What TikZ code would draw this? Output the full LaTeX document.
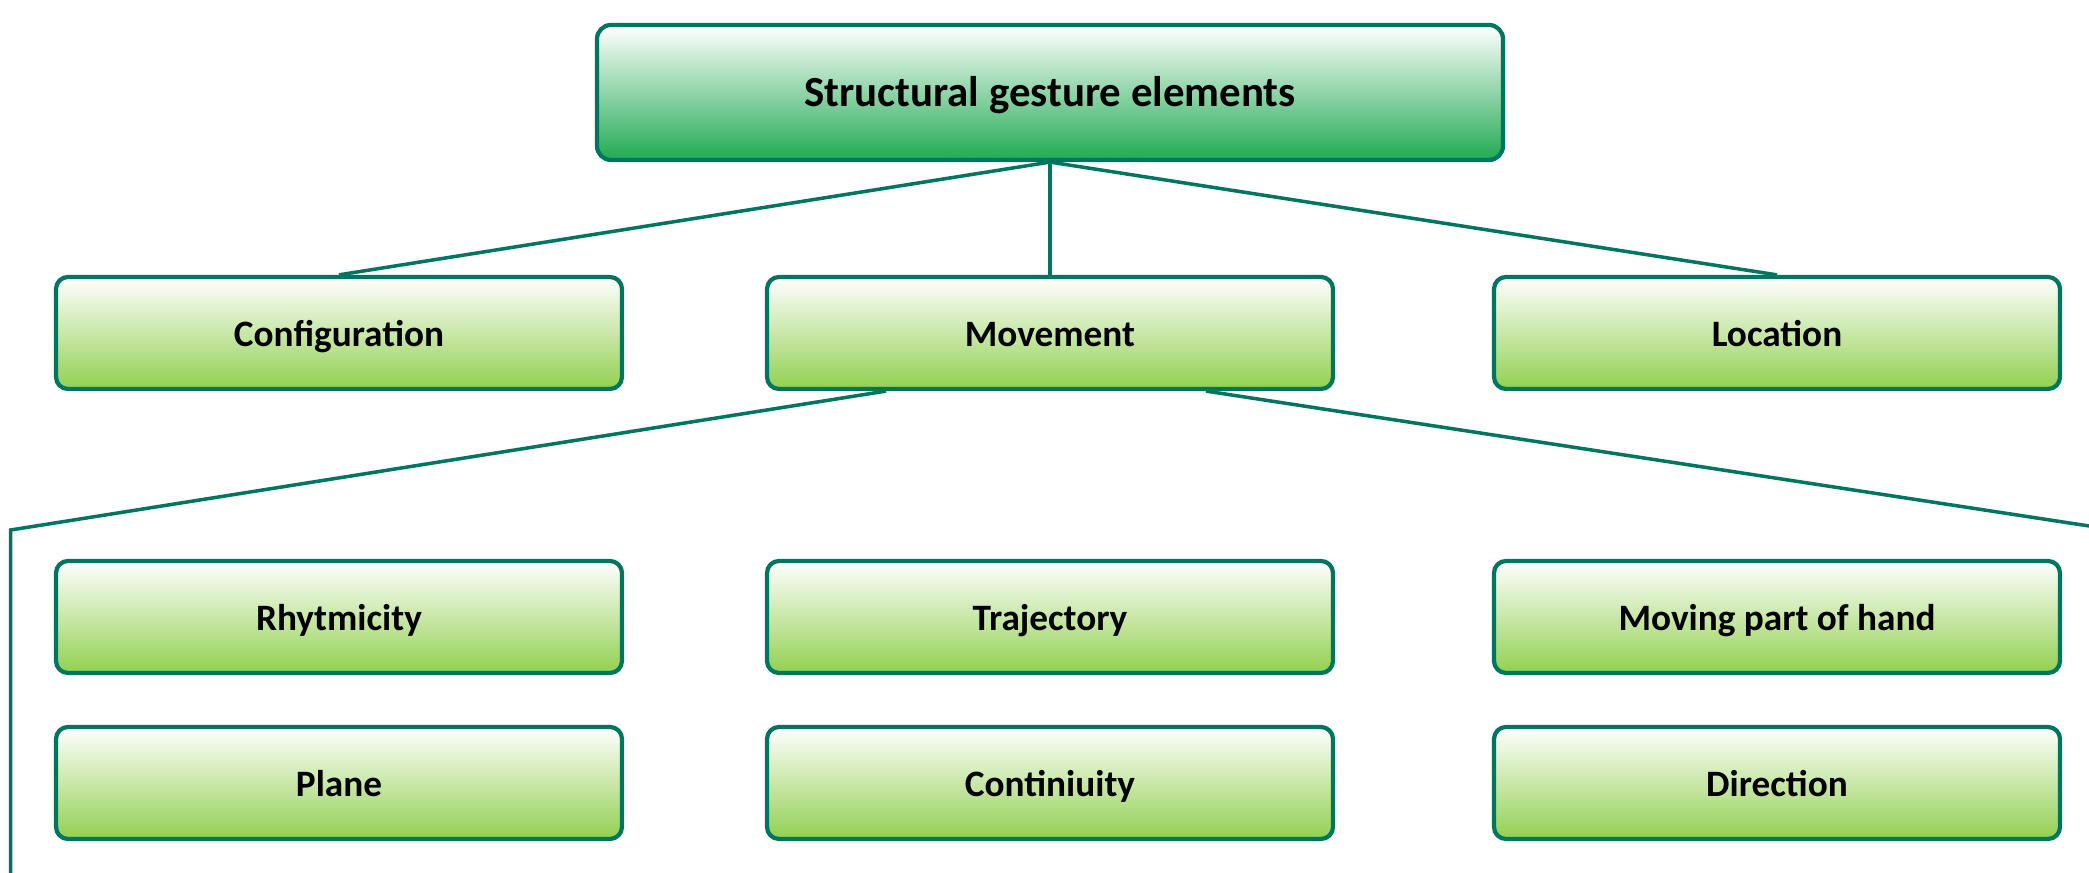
\documentclass[tikz,border=0pt]{standalone}
\usepackage{fontspec}
\setmainfont{Carlito}
\usepackage{tikz}
\usepackage{xcolor}
\usetikzlibrary{calc}
\definecolor{edgegreen}{RGB}{0,118,96}
\definecolor{rootgreen}{RGB}{32,170,82}
\definecolor{leafgreen}{RGB}{146,208,80}
\tikzset{
    root-box/.style = {draw=edgegreen, line width=1.2pt, rectangle, rounded corners=0.14cm, inner sep=0pt, minimum width=9.06cm, minimum height=1.35cm, text height=2ex, text depth=0.35ex, top color=white, middle color=rootgreen!25!white, bottom color=rootgreen, font=\fontsize{12.2}{14}\selectfont\bfseries},
    leaf-box/.style = {draw=edgegreen, line width=1.2pt, rectangle, rounded corners=0.12cm, inner sep=0pt, minimum width=5.66cm, minimum height=1.12cm, text height=2ex, text depth=0.35ex, top color=white, middle color=leafgreen!22!white, bottom color=leafgreen, font=\fontsize{10.6}{12.6}\selectfont\bfseries},
    link/.style = {draw=edgegreen, line width=1pt},
}

\begin{document}
\begin{tikzpicture}
\useasboundingbox (0,0) rectangle (20.89,8.73);
\node [root-box] (root) at (10.50,7.805) {Structural gesture elements};

\node [leaf-box] (config) at (3.39,5.40) {Configuration};
\node [leaf-box] (move) at (10.50,5.40) {Movement};
\node [leaf-box] (loc) at (17.77,5.40) {Location};

\node [leaf-box] (rhythm) at (3.39,2.56) {Rhytmicity};
\node [leaf-box] (traj) at (10.50,2.56) {Trajectory};
\node [leaf-box] (hand) at (17.77,2.56) {Moving part of hand};

\node [leaf-box] (plane) at (3.39,0.90) {Plane};
\node [leaf-box] (cont) at (10.50,0.90) {Continiuity};
\node [leaf-box] (dir) at (17.77,0.90) {Direction};

\coordinate (bend-left) at (0.107,3.43);
\coordinate (end-left) at (0.107,0);
\coordinate (end-right) at (20.89,3.47);

\draw [link] (root.south) -- (config.north);
\draw [link] (root.south) -- (move.north);
\draw [link] (root.south) -- (loc.north);
\draw [link] ($(move.south)+(-1.64,0)$) -- (bend-left) -- (end-left);
\draw [link] ($(move.south)+(1.56,0)$) -- (end-right);
\end{tikzpicture}
\end{document}
